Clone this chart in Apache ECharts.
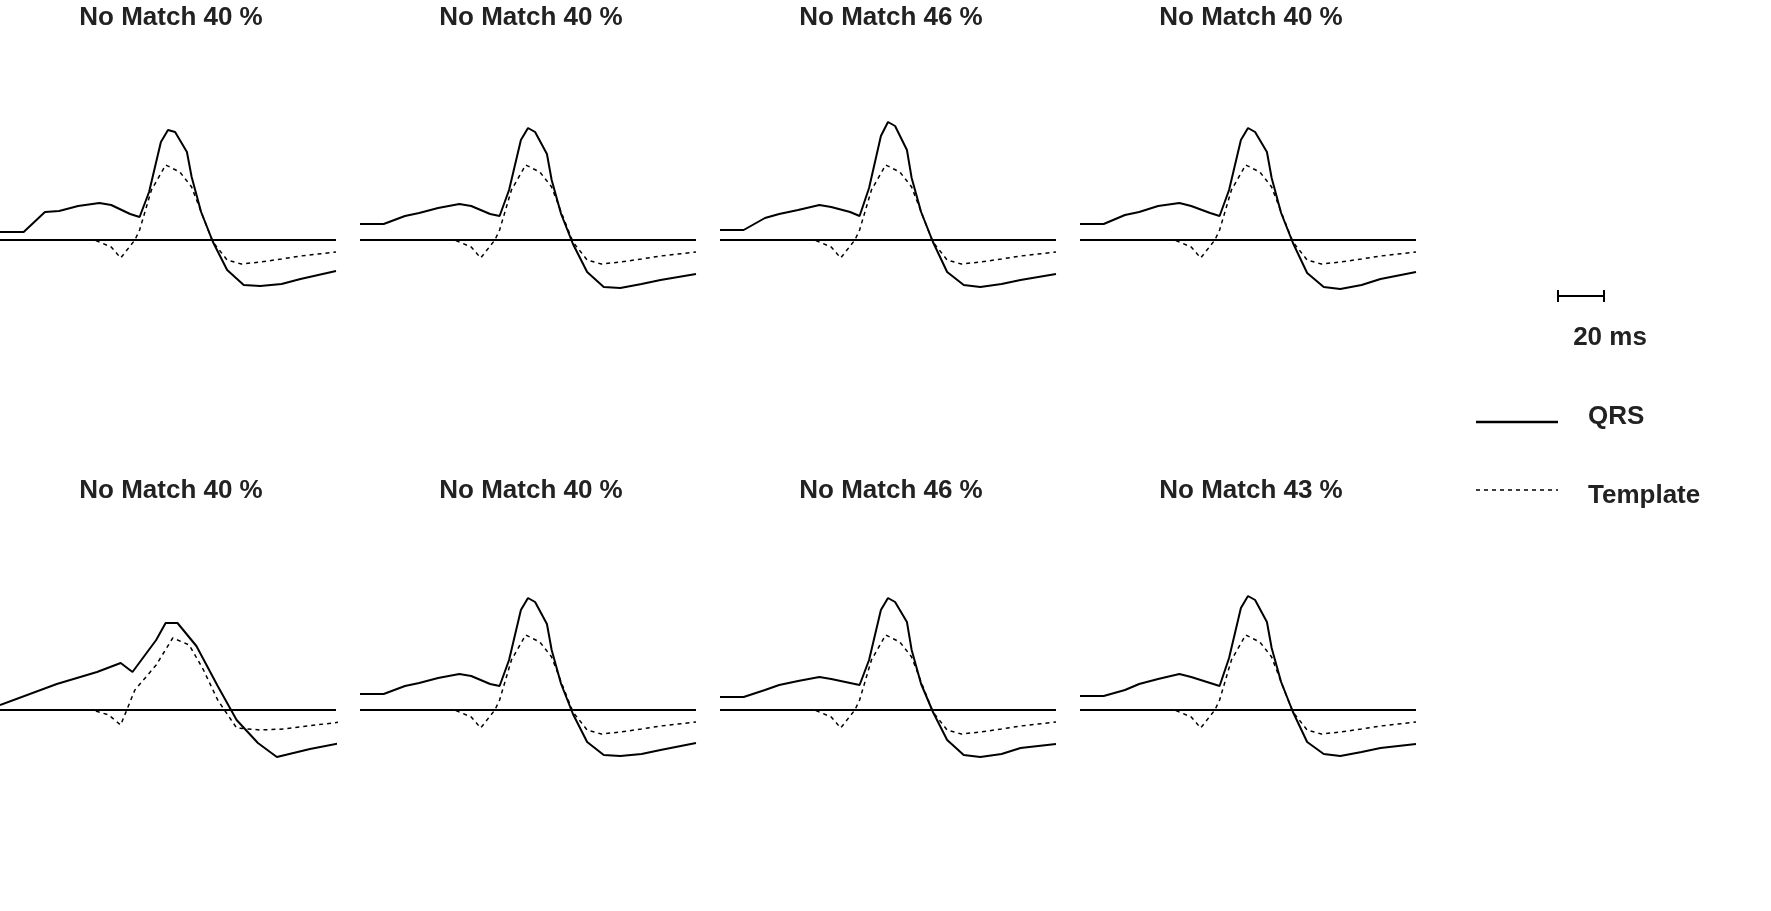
<!DOCTYPE html>
<html><head><meta charset="utf-8">
<script src="https://cdn.jsdelivr.net/npm/echarts@6/dist/echarts.min.js"></script>
<style>html,body{margin:0;background:#fff}#c{width:1771px;height:911px}</style>
</head><body><div id="c"></div>
<script>
const titles = ['No Match 40 %','No Match 40 %','No Match 46 %','No Match 40 %','No Match 40 %','No Match 40 %','No Match 46 %','No Match 43 %'];
const qrsT = [0,10,19,25,33,42,47,55,59,63,68,71,74,79,81,85,90,96,103,110,119,127,142];
const qrsV = [
 [8,8,28,29,34,37,35,26,23,48,98,110,108,88,63,28,-2,-30,-45,-46,-44,-39,-31],
 [16,16,24,27,32,36,34,26,24,50,100,112,108,86,60,26,-4,-32,-47,-48,-44,-40,-34],
 [10,10,22,26,30,35,33,28,24,52,104,118,114,90,62,28,-2,-32,-45,-47,-44,-40,-34],
 [16,16,25,28,34,37,34,27,24,50,100,112,108,88,62,27,-3,-33,-47,-49,-45,-39,-32],
 null,
 [16,16,24,27,32,36,34,26,24,50,100,112,108,86,60,26,-4,-32,-45,-46,-44,-40,-33],
 [13,13,20,25,29,33,31,27,25,50,100,112,108,88,60,26,-2,-30,-45,-47,-44,-38,-34],
 [14,14,20,26,31,36,33,27,24,52,102,114,110,88,62,28,-2,-32,-44,-46,-42,-38,-34]
];
const q5T = [0,24,41,51,56,66,70,75,83,92,100,109,117,131,144];
const q5V = [5,26,38,47,38,70,87,87,64,24,-10,-33,-47,-39,-33];
const tplT = [0,40,47,51,55,57,59,64,70,76,81,85,90,96,102,110,119,127,142];
const tplV = [0,0,-7,-18,-6,0,10,50,75,68,53,28,-2,-20,-24,-22,-19,-16,-12];
const t5T = [0,39,46,51,57,66,73,80,86,92,100,110,120,130,144];
const t5V = [0,0,-5,-15,20,45,72,65,40,10,-18,-20,-19,-16,-12];

const lefts=[0,360,720,1080];
const grid=[],xAxis=[],yAxis=[],series=[],title=[];
for(let i=0;i<8;i++){
  const r=Math.floor(i/4), c=i%4;
  const top = r===0?110:580;
  grid.push({left:lefts[c],top:top,width:336,height:190});
  xAxis.push({gridIndex:i,type:'value',min:0,max:142,show:false});
  yAxis.push({gridIndex:i,type:'value',min:-60,max:130,show:false});
  const qt = i===4?q5T:qrsT, qv = i===4?q5V:qrsV[i];
  const tt = i===4?t5T:tplT;
  const tv = i===4?t5V:tplV;
  series.push({type:'line',xAxisIndex:i,yAxisIndex:i,symbol:'none',data:qt.map((t,k)=>[t,qv[k]]),
    lineStyle:{color:'#000',width:2},silent:true,
    markLine:{symbol:'none',silent:true,label:{show:false},lineStyle:{color:'#000',width:2,type:'solid'},data:[{yAxis:0}]}});
  series.push({type:'line',xAxisIndex:i,yAxisIndex:i,symbol:'none',data:tt.map((t,k)=>[t,tv[k]]),
    lineStyle:{color:'#000',width:1.5,type:[4,4]},silent:true});
  title.push({text:titles[i],left:lefts[c]+166,top:r===0?0:473,textAlign:'center',
    textStyle:{fontFamily:'Liberation Sans',fontWeight:'bold',fontSize:26,color:'#222'}});
}
const chart=echarts.init(document.getElementById('c'));
chart.setOption({animation:false,title,grid,xAxis,yAxis,series,
 graphic:[
  {type:'line',shape:{x1:1558,y1:296,x2:1604,y2:296},style:{stroke:'#000',lineWidth:2}},
  {type:'line',shape:{x1:1558,y1:290,x2:1558,y2:302},style:{stroke:'#000',lineWidth:2}},
  {type:'line',shape:{x1:1604,y1:290,x2:1604,y2:302},style:{stroke:'#000',lineWidth:2}},
  {type:'text',x:1610,y:338,style:{text:'20 ms',textAlign:'center',textVerticalAlign:'middle',font:'bold 26px Liberation Sans',fill:'#222'}},
  {type:'line',shape:{x1:1476,y1:422,x2:1558,y2:422},style:{stroke:'#000',lineWidth:2.5}},
  {type:'text',x:1588,y:417,style:{text:'QRS',textVerticalAlign:'middle',font:'bold 26px Liberation Sans',fill:'#222'}},
  {type:'line',shape:{x1:1476,y1:490,x2:1558,y2:490},style:{stroke:'#000',lineWidth:1.5,lineDash:[4,4]}},
  {type:'text',x:1588,y:496,style:{text:'Template',textVerticalAlign:'middle',font:'bold 26px Liberation Sans',fill:'#222'}}
 ]});
</script></body></html>
